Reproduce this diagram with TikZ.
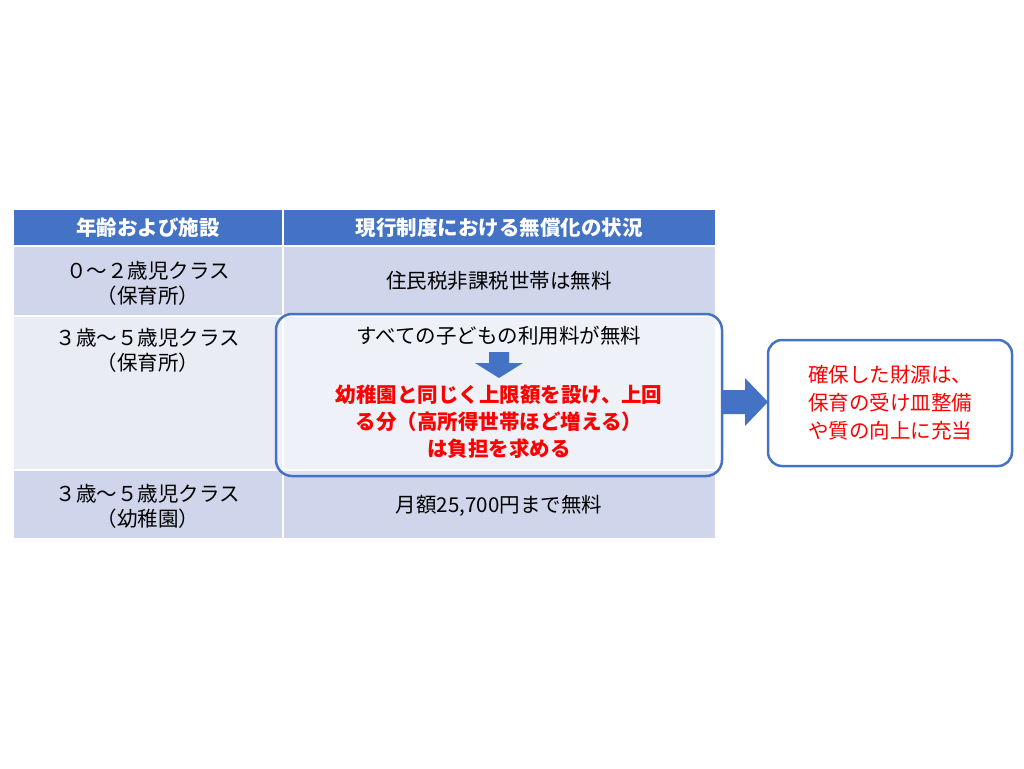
\documentclass[tikz,border=0pt]{standalone}
\usepackage{fontspec}
\newfontfamily\cjk{Noto Sans CJK JP}
\definecolor{hdr}{HTML}{4472C4}
\definecolor{rowa}{HTML}{CFD5EA}
\definecolor{rowb}{HTML}{E9EBF5}
\definecolor{brd}{HTML}{4472C4}
\tikzset{txt/.style={font=\cjk\fontsize{20.5}{25}\selectfont,align=center,text=black},
 htxt/.style={txt,text=white,font=\cjk\bfseries\fontsize{20.5}{25}\selectfont},
 rtxt/.style={txt,text=red,font=\cjk\bfseries\fontsize{20.5}{25}\selectfont}}
\begin{document}
\begin{tikzpicture}[x=1pt,y=-1pt]
\useasboundingbox (0,0) rectangle (1024,768);
\fill[hdr] (14,210) rectangle (715,246);
\fill[rowa] (14,246) rectangle (715,316);
\fill[rowb] (14,316) rectangle (715,470);
\fill[rowa] (14,470) rectangle (715,538);
\draw[white,line width=1.5pt] (14,246)--(715,246) (14,316)--(715,316) (14,470)--(715,470) (283,210)--(283,538);
\node[htxt] (h1) at (148,228) {年齢および施設};
\node[htxt] (h2) at (499,228) {現行制度における無償化の状況};
\node[txt] (a1) at (148,283) {０～２歳児クラス\\（保育所）};
\node[txt] (b1) at (499,281) {住民税非課税世帯は無料};
\node[txt] (a2) at (148,350) {３歳～５歳児クラス\\（保育所）};
\node[txt] (a3) at (148,506) {３歳～５歳児クラス\\（幼稚園）};
\node[txt] (b3) at (499,506) {月額25,700円まで無料};
\draw[brd,line width=2.5pt,rounded corners=16pt,fill=white,fill opacity=0.3] (276,314) rectangle (722,476);
\node[txt] (b2) at (499,336) {すべての子どもの利用料が無料};
\fill[brd] (489,352) -- (509,352) -- (509,363) -- (523,363) -- (499,378) -- (475,363) -- (489,363) -- cycle;
\node[rtxt,font=\cjk\bfseries\fontsize{20.5}{27}\selectfont] (r) at (499,422) {幼稚園と同じく上限額を設け、上回\\る分（高所得世帯ほど増える）\\は負担を求める};
\fill[brd] (722,390) -- (745,390) -- (745,378) -- (768,402) -- (745,426) -- (745,414) -- (722,414) -- cycle;
\draw[brd,line width=2.5pt,rounded corners=14pt,fill=white] (768,340) rectangle (1012,466);
\node[rtxt,font=\cjk\fontsize{20.5}{28}\selectfont] (rb) at (890,403) {確保した財源は、\\保育の受け皿整備\\や質の向上に充当};
\end{tikzpicture}
\end{document}
